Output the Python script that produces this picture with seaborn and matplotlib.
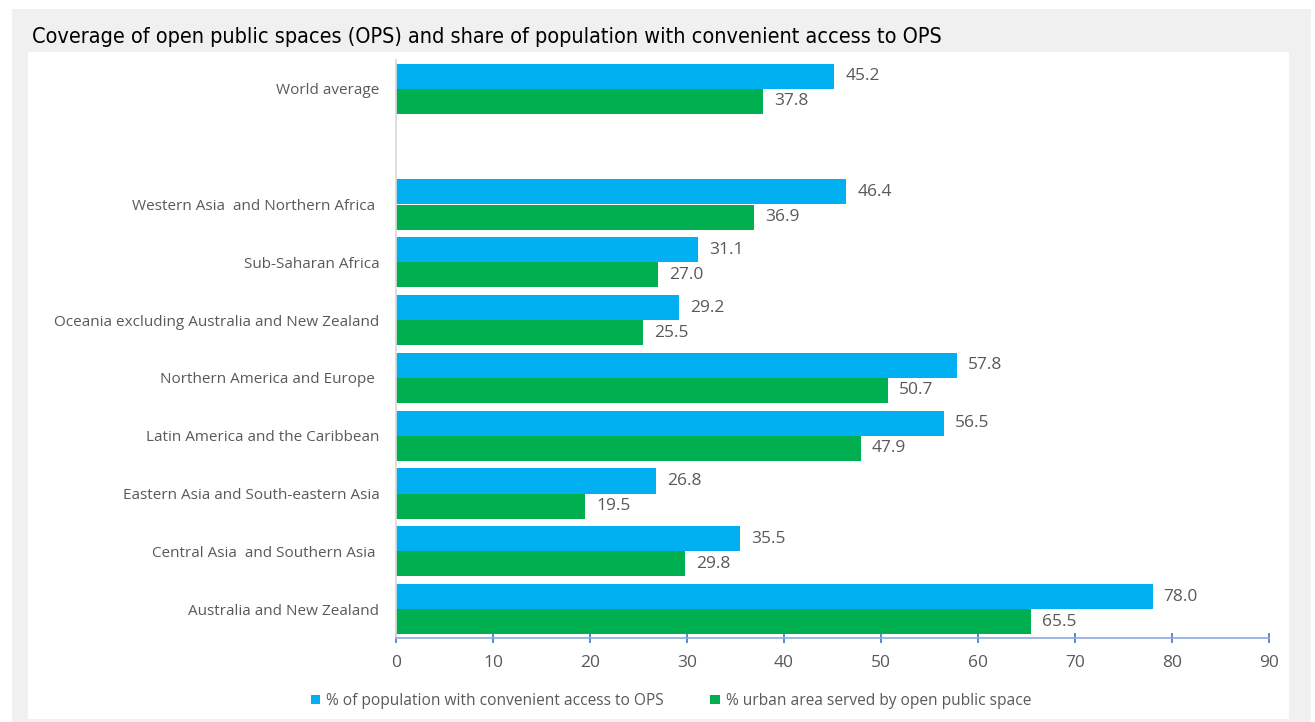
import matplotlib
matplotlib.use("Agg")
import matplotlib.pyplot as plt
from matplotlib.patches import Rectangle
import seaborn as sns
import pandas as pd

categories = ["World average", " ",
              "Western Asia  and Northern Africa ",
              "Sub-Saharan Africa",
              "Oceania excluding Australia and New Zealand",
              "Northern America and Europe ",
              "Latin America and the Caribbean",
              "Eastern Asia and South-eastern Asia",
              "Central Asia  and Southern Asia ",
              "Australia and New Zealand"]
data_categories = [c for c in categories if c.strip()]
access_pop = [45.2, 46.4, 31.1, 29.2, 57.8, 56.5, 26.8, 35.5, 78.0]
urban_area = [37.8, 36.9, 27.0, 25.5, 50.7, 47.9, 19.5, 29.8, 65.5]
series = ["% of population with convenient access to OPS",
          "% urban area served by open public space"]
colors = ["#00b0f0", "#00b050"]
xticks = [0, 10, 20, 30, 40, 50, 60, 70, 80, 90]
title = "Coverage of open public spaces (OPS) and share of population with convenient access to OPS"

df = pd.DataFrame({
    "region": data_categories * 2,
    "value": access_pop + urban_area,
    "series": [series[0]] * len(data_categories) + [series[1]] * len(data_categories),
})

sns.set_theme(style="white")
plt.rcParams["font.family"] = ["Open Sans", "DejaVu Sans"]

W, H = 1315, 722
fig = plt.figure(figsize=(W / 100, H / 100), dpi=100)
fig.patch.set_facecolor("white")
fig.patches.append(Rectangle((12 / W, 0), (1311 - 12) / W, 1 - 9 / H,
                             transform=fig.transFigure, facecolor="#f0f0f0",
                             edgecolor="none", zorder=-3))
fig.patches.append(Rectangle((28 / W, 3 / H), (1289 - 28) / W, (719 - 52) / H,
                             transform=fig.transFigure, facecolor="white",
                             edgecolor="none", zorder=-2))

ax = fig.add_axes([396 / W, 1 - 638 / H, (1269 - 396) / W, (638 - 60) / H])
ax.set_facecolor("none")
sns.barplot(data=df, y="region", x="value", hue="series", order=categories,
            hue_order=series, palette=colors, width=0.87, saturation=1,
            orient="h", ax=ax, legend=True, linewidth=0)

for cont in ax.containers:
    ax.bar_label(cont, fmt="%.1f", padding=8, fontsize=12.5, color="#595959")

ax.set_xlim(0, 90)
ax.set_xticks(xticks)
ax.set_xlabel("")
ax.set_ylabel("")
ax.tick_params(axis="x", labelsize=12.5, colors="#4472c4", labelcolor="#595959",
               direction="inout", length=7, width=1.2, pad=9, bottom=True)
ax.tick_params(axis="y", labelsize=11, labelcolor="#595959", length=0, pad=12)
for s in ["top", "right"]:
    ax.spines[s].set_visible(False)
ax.spines["left"].set_color("#d9d9d9")
ax.spines["bottom"].set_color("#8eaadb")
ax.spines["bottom"].set_linewidth(1.2)

handles, labels = ax.get_legend_handles_labels()
ax.get_legend().remove()
fig.legend(handles, labels, loc="center", bbox_to_anchor=(671 / W, 1 - 701 / H),
           ncol=2, frameon=False, fontsize=11.2, handlelength=0.6, handleheight=0.6,
           handletextpad=0.4, columnspacing=3.0, labelcolor="#595959")

fig.text(32 / W, 1 - 37 / H, title, fontsize=15.5, color="black",
         family=["DejaVu Sans"], stretch="condensed", va="center", ha="left")

fig.savefig("out.png", dpi=100)
